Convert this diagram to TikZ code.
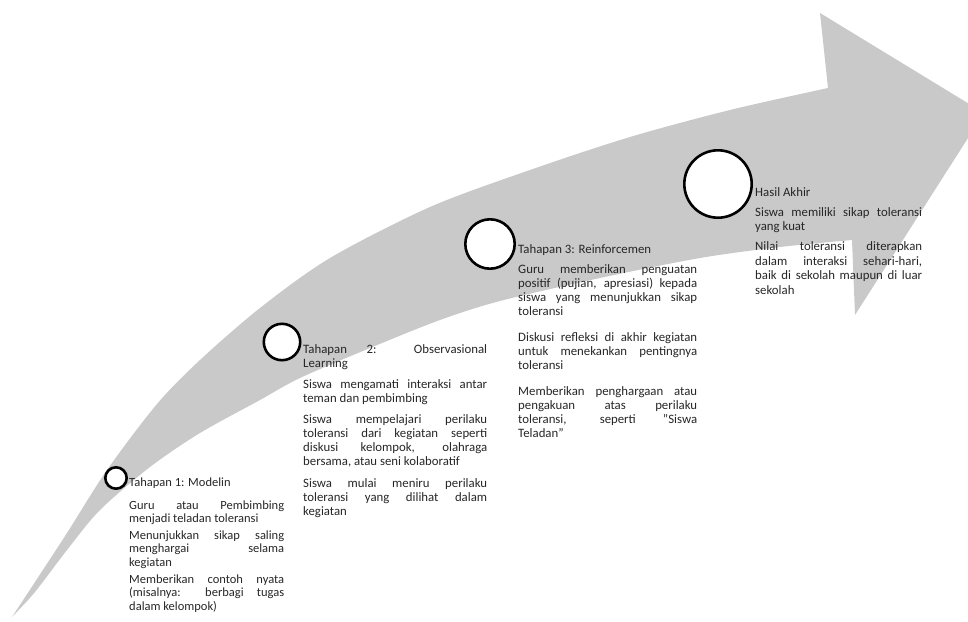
\documentclass[tikz,border=0pt]{standalone}
\usepackage{fontspec}
\setmainfont{Carlito}
\usepackage{tikz}
\usetikzlibrary{positioning}
\newcommand{\stagegap}[1]{\par\vspace{#1pt}}

\begin{document}
\begin{tikzpicture}[x=1pt,y=-1pt,
	stepcircle/.style={circle,draw,fill=white,line width=2.6pt,inner sep=0pt},
	stagetext/.style={anchor=base west,inner sep=0pt,align=justify,text width=#1,text=black!85}
]
	\useasboundingbox (0,0) rectangle (968,621);
	\clip (0,0) rectangle (968,621);

	% curved arrow
	\fill[black!21] plot[smooth] coordinates {(12,617) (35,582) (67,533) (107,470) (157,404) (200,360) (260,308) (330,258) (430,207) (530,170) (630,137) (730,110) (828,88)}
		-- (820,13) -- (984,113) -- (855,315) -- (852,240)
		-- plot[smooth] coordinates {(852,240) (780,247) (700,258) (600,278) (500,301) (440,320) (370,348) (300,378) (260,400) (200,433) (150,467) (100,510) (67,550) (35,592) (12,617)}
		-- cycle;

	\node[stepcircle,minimum size=21.4] at (116,478) (c1) {};
	\node[stepcircle,minimum size=36.4] at (282,342) (c2) {};
	\node[stepcircle,minimum size=49.4] at (490,244) (c3) {};
	\node[stepcircle,minimum size=67.4] at (718,184) (c4) {};

	\node[stagetext=155,font=\fontsize{12.5}{13.3}\selectfont] at (129,486) (t1) {%
		Tahapan 1: Modelin\stagegap{9.7}
		Guru atau Pembimbing\linebreak menjadi teladan toleransi\stagegap{4}
		Menunjukkan sikap saling\linebreak menghargai selama\linebreak kegiatan\stagegap{4}
		Memberikan contoh nyata\linebreak (misalnya: berbagi tugas\linebreak dalam kelompok)};

	\node[stagetext=184,font=\fontsize{12.8}{14}\selectfont] at (303,353) (t2) {%
		Tahapan 2: Observasional\linebreak Learning\stagegap{7}
		Siswa mengamati interaksi antar\linebreak teman dan pembimbing\stagegap{7.5}
		Siswa mempelajari perilaku\linebreak toleransi dari kegiatan seperti\linebreak diskusi kelompok, olahraga\linebreak bersama, atau seni kolaboratif\stagegap{7.5}
		Siswa mulai meniru perilaku\linebreak toleransi yang dilihat dalam\linebreak kegiatan};

	\node[stagetext=179,font=\fontsize{12.8}{14}\selectfont] at (518,253) (t3) {%
		Tahapan 3: Reinforcemen\stagegap{6}
		Guru memberikan penguatan\linebreak positif (pujian, apresiasi) kepada\linebreak siswa yang menunjukkan sikap\linebreak toleransi\stagegap{12}
		Diskusi refleksi di akhir kegiatan\linebreak untuk menekankan pentingnya\linebreak toleransi\stagegap{12}
		Memberikan penghargaan atau\linebreak pengakuan atas perilaku\linebreak toleransi, seperti "Siswa\linebreak Teladan"};

	\node[stagetext=167,font=\fontsize{12.8}{14.5}\selectfont] at (755,196) (t4) {%
		Hasil Akhir\stagegap{5.5}
		Siswa memiliki sikap toleransi\linebreak yang kuat\stagegap{5.5}
		Nilai toleransi diterapkan\linebreak dalam interaksi sehari-hari,\linebreak baik di sekolah maupun di luar\linebreak sekolah};
\end{tikzpicture}
\end{document}
